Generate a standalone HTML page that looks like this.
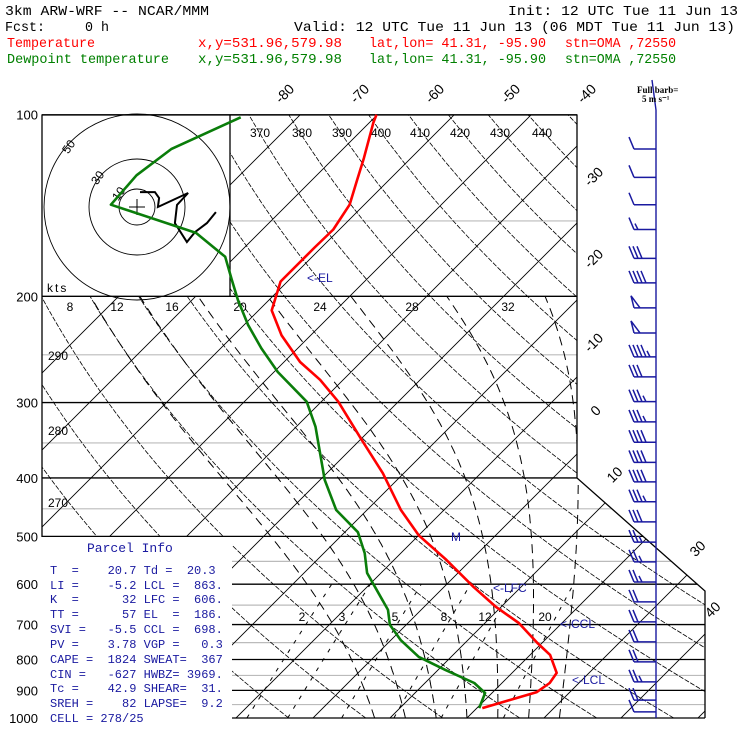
<!DOCTYPE html>
<html><head><meta charset="utf-8"><style>
html,body{margin:0;padding:0;background:#fff;}
svg{display:block;font-family:"Liberation Sans",sans-serif;}
.mono{font-family:"Liberation Mono",monospace;}
</style></head><body>
<svg id="chart" width="740" height="740" viewBox="0 0 740 740" xmlns="http://www.w3.org/2000/svg">
<defs>
<clipPath id="plotclip"><polygon points="230,115 577,115 577,478 705,591 705,718 232,718 232,537 42,537 42,296 230,296"/></clipPath>
</defs>
<rect width="740" height="740" fill="#fff"/>
<g class="mono" font-size="14">
<text x="5" y="15" textLength="204" lengthAdjust="spacingAndGlyphs">3km ARW-WRF -- NCAR/MMM</text>
<text x="508" y="15" textLength="230" lengthAdjust="spacingAndGlyphs">Init: 12 UTC Tue 11 Jun 13</text>
<text x="5" y="31" textLength="104" lengthAdjust="spacingAndGlyphs" xml:space="preserve">Fcst:     0 h</text>
<text x="294" y="31" textLength="441" lengthAdjust="spacingAndGlyphs">Valid: 12 UTC Tue 11 Jun 13 (06 MDT Tue 11 Jun 13)</text>
<g fill="#ff0000">
<text x="7" y="47" textLength="88" lengthAdjust="spacingAndGlyphs">Temperature</text>
<text x="198" y="47" textLength="144" lengthAdjust="spacingAndGlyphs">x,y=531.96,579.98</text>
<text x="369" y="47" textLength="177" lengthAdjust="spacingAndGlyphs">lat,lon= 41.31, -95.90</text>
<text x="565" y="47" textLength="111" lengthAdjust="spacingAndGlyphs">stn=OMA ,72550</text>
</g>
<g fill="#008000">
<text x="7" y="63" textLength="162" lengthAdjust="spacingAndGlyphs">Dewpoint temperature</text>
<text x="198" y="63" textLength="144" lengthAdjust="spacingAndGlyphs">x,y=531.96,579.98</text>
<text x="369" y="63" textLength="177" lengthAdjust="spacingAndGlyphs">lat,lon= 41.31, -95.90</text>
<text x="565" y="63" textLength="111" lengthAdjust="spacingAndGlyphs">stn=OMA ,72550</text>
</g>
</g>
<g id="grid" clip-path="url(#plotclip)"></g>
<g id="frame"></g>
<g id="labels"></g>
<g id="hodo"></g>
<g id="profiles"></g>
<g id="barbs"></g>
<g class="mono" font-size="12" fill="#1a1aa0">
<text x="87" y="552" font-size="13" xml:space="preserve">Parcel Info</text>
<text x="50" y="574" xml:space="preserve">T  =    20.7 Td =  20.3</text>
<text x="50" y="589" xml:space="preserve">LI =    -5.2 LCL =  863.</text>
<text x="50" y="603" xml:space="preserve">K  =      32 LFC =  606.</text>
<text x="50" y="618" xml:space="preserve">TT =      57 EL  =  186.</text>
<text x="50" y="633" xml:space="preserve">SVI =   -5.5 CCL =  698.</text>
<text x="50" y="648" xml:space="preserve">PV =    3.78 VGP =   0.3</text>
<text x="50" y="663" xml:space="preserve">CAPE =  1824 SWEAT=  367</text>
<text x="50" y="678" xml:space="preserve">CIN =   -627 HWBZ= 3969.</text>
<text x="50" y="692" xml:space="preserve">Tc =    42.9 SHEAR=  31.</text>
<text x="50" y="707" xml:space="preserve">SREH =    82 LAPSE=  9.2</text>
<text x="50" y="722" xml:space="preserve">CELL = 278/25</text>
</g>
<g font-size="12" fill="#1a1aa0">
<text x="307" y="282">&lt;-EL</text>
<text x="493" y="592">&lt;-LFC</text>
<text x="560" y="628">&lt;-CCL</text>
<text x="572" y="684">&lt;-LCL</text>
<text x="451" y="541">M</text>
</g>
<g font-family="Liberation Serif,serif" font-weight="bold" font-size="9">
<text x="637" y="93">Full barb=</text>
<text x="642" y="102">5 m s⁻¹</text>
</g>
</svg>
<script>
var isoT = [-150,-140,-130,-120,-110,-100,-90,-80,-70,-60,-50,-40,-30,-20,-10,0,10,20,30,40,50,60];
var thetas = [250,260,270,280,290,300,310,320,330,340,350,360,370,380,390,400,410,420,430,440,450,460,470];
var mixRatios = [2,3,5,8,12,20];
var moistThetaW = [8,12,16,20,24,28,32];
var pLevels = [100,200,300,400,500,600,700,800,900,1000];
var pMinor = [150,250,350,450,550,650,750,850,950];
var tempP = [100,103,118,128,141,155,166,189,211,232,257,275,299,344,393,452,498,547,607,655,696,751,786,842,875,906,934,963];
var tempT = [-70.1,-69.5,-66.1,-64.2,-61.9,-60.8,-60.9,-60.9,-58.3,-53.8,-47.9,-43,-37.8,-30.1,-22.7,-15.6,-10,-3.2,3.9,9.4,14.4,19.4,22.6,25.8,26.2,25.7,23.2,20.7];
var dewP = [101,114,126,141,157,172,188,203,223,244,267,299,329,403,452,492,533,575,662,701,743,792,833,875,909,963];
var dewT = [-87.4,-92.3,-93.4,-92.9,-78.2,-71.3,-67.4,-64,-59.5,-54.7,-49.5,-41.9,-37.5,-29.4,-24,-18.3,-14.7,-11.8,-4.3,-2.1,1.3,5.8,11,16.4,19.1,20.3];
var windP = [114,127,141,155,173,190,209,230,252,272,299,323,349,377,406,438,473,511,551,595,642,693,748,807,871,934,977];
var windSpd = [5,5,5,7.5,15,20,25,25,22.5,15,17.5,17.5,20,20,20,17.5,15,12.5,12.5,12.5,10,10,10,10,12.5,10,5];
var hodoU = [1.3,7.8,9.6,9.1,22.2,17.4,16.5,21.7,25.2,30.4,34.3];
var hodoV = [6.5,6.5,3.9,0,6.1,0.9,-7,-15.2,-10.9,-7,-2.2];

var NS='http://www.w3.org/2000/svg';
function yP(p){return 718-262*Math.log(1000/p);}
function xT(T,p){var y=yP(p);return 608+7.7*(T+40)-(y-115);}
function mk(tag,attrs,parent){var e=document.createElementNS(NS,tag);for(var k in attrs)e.setAttribute(k,attrs[k]);parent.appendChild(e);return e;}
function pts(arr){return arr.map(function(a){return a[0].toFixed(1)+','+a[1].toFixed(1);}).join(' ');}
var grid=document.getElementById('grid');
pMinor.forEach(function(p){var l=mk('line',{x1:42,x2:705,y1:yP(p),y2:yP(p),stroke:'#bbbbbb','stroke-width':1.2},grid);

});
isoT.forEach(function(T){var l=mk('line',{x1:xT(T,1000),y1:yP(1000),x2:xT(T,100),y2:yP(100),stroke:'#000','stroke-width':0.9},grid);

});
thetas.forEach(function(th){var a=[];for(var p=1000;p>=100;p-=10){var T=th*Math.pow(p/1000,0.2857)-273.15;a.push([xT(T,p),yP(p)]);}
var l=mk('polyline',{points:pts(a),fill:'none',stroke:'#000','stroke-width':0.8,'stroke-dasharray':'5,1.5'},grid);

});
function tdW(w,p){var e=w*p/(622+w);var L=Math.log(e/6.112);return 243.5*L/(17.67-L);}
mixRatios.forEach(function(w){var a=[];for(var p=1000;p>=600;p-=20)a.push([xT(tdW(w,p),p),yP(p)]);
var l=mk('polyline',{points:pts(a),fill:'none',stroke:'#000','stroke-width':1,'stroke-dasharray':'4,7'},grid);

});
moistThetaW.forEach(function(tw){var T=tw+273.15,a=[];for(var p=1000;p>=200;p-=5){a.push([xT(T-273.15,p),yP(p)]);
var es=6.112*Math.exp(17.67*(T-273.15)/(T-29.65));var rs=0.622*es/(p-es);
var d=(287*T+2.5e6*rs)/(p*(1004+2.5e6*2.5e6*rs*0.622/(287*T*T)));T-=d*5;}
var l=mk('polyline',{points:pts(a),fill:'none',stroke:'#000','stroke-width':1,'stroke-dasharray':'9,6'},grid);

});
var fr=document.getElementById('frame');
function leftX(p){return p>500?232:42;}
function rightX(p){var y=yP(p);if(y<=478)return 577;var x=577+(y-478)/0.88;return Math.min(705,x);}
pLevels.forEach(function(p){var l=mk('line',{x1:leftX(p),x2:rightX(p),y1:yP(p),y2:yP(p),stroke:'#000','stroke-width':1.3},fr);

});
var f=mk('polyline',{points:'42,537 42,115 577,115 577,478 705,591 705,718',fill:'none',stroke:'#000','stroke-width':1.3},fr);


var hb=mk('line',{x1:230,y1:115,x2:230,y2:296,stroke:'#000','stroke-width':1.3},fr);


var lab=document.getElementById('labels');
function txt(s,x,y,rot,size,name){var t=mk('text',{x:x,y:y,'font-size':size||12,'text-anchor':'middle'},lab);
if(rot)t.setAttribute('transform','rotate('+rot+' '+x+' '+y+')');t.textContent=s;

}
[[1000,'1000'],[900,'900'],[800,'800'],[700,'700'],[600,'600'],[500,'500'],[400,'400'],[300,'300'],[200,'200'],[100,'100']].forEach(function(a){
var t=mk('text',{x:38,y:yP(a[0])+5,'font-size':13,'text-anchor':'end'},lab);t.textContent=a[1];

});
[['-80',288,97],['-70',363,97],['-60',438,97],['-50',514,97],['-40',590,97],['-30',597,180],['-20',597,262],['-10',597,346],['0',599,414],['10',618,478],['30',701,552],['40',716,613]].forEach(function(a){txt(a[0],a[1],a[2],-45,14,'isotherm-label');});
[['370',260,137],['380',302,137],['390',342,137],['400',381,137],['410',420,137],['420',460,137],['430',500,137],['440',542,137],['290',58,360],['280',58,435],['270',58,507]].forEach(function(a){txt(a[0],a[1],a[2],0,12,'theta-label');});
[['8',70,311],['12',117,311],['16',172,311],['20',240,311],['24',320,311],['28',412,311],['32',508,311]].forEach(function(a){txt(a[0],a[1],a[2],0,12,'moist-adiabat-label');});
[['2',302,621],['3',342,621],['5',395,621],['8',444,621],['12',485,621],['20',545,621]].forEach(function(a){txt(a[0],a[1],a[2],0,12,'mixing-ratio-label');});
var hg=document.getElementById('hodo');var cx=137,cy=207;
[18,48,93].forEach(function(r){var c=mk('circle',{cx:cx,cy:cy,r:r,fill:'none',stroke:'#000','stroke-width':0.9},hg);

});
mk('path',{d:'M129,207H145M137,199V215',stroke:'#000','stroke-width':1},hg);
[['10',122,196],['30',101,180],['50',72,149]].forEach(function(a){var t=mk('text',{x:a[1],y:a[2],'font-size':12,'text-anchor':'middle',transform:'rotate(-55 '+a[1]+' '+a[2]+')'},hg);t.textContent=a[0];

});
var kt=mk('text',{x:47,y:292,'font-size':12,'letter-spacing':'2'},hg);kt.textContent='kts';


var hs=2.3;var ha=hodoU.map(function(u,i){return [cx+u*hs,cy-hodoV[i]*hs];});
var hl=mk('polyline',{points:pts(ha),fill:'none',stroke:'#000','stroke-width':2},hg);


var pr=document.getElementById('profiles');
var dl=mk('polyline',{points:pts(dewP.map(function(p,i){return [xT(dewT[i],p),yP(p)];})),fill:'none',stroke:'#0a7d0a','stroke-width':2.6,'stroke-linejoin':'round'},pr);


var tl=mk('polyline',{points:pts(tempP.map(function(p,i){return [xT(tempT[i],p),yP(p)];})),fill:'none',stroke:'#ff0000','stroke-width':2.6,'stroke-linejoin':'round'},pr);


var bg=document.getElementById('barbs');var col='#1a1aa0';var sx=656;
var st=mk('path',{d:'M652,80L656,110V718',stroke:col,'stroke-width':1.4,fill:'none'},bg);


windP.forEach(function(p,i){var y=yP(p);var s=windSpd[i];var d='M'+sx+','+y+'H634';var x=634;
var pen=Math.floor(s/25);s-=pen*25;var full=Math.floor(s/5);s-=full*5;var half=s>=2.5?1:0;
for(var k=0;k<pen;k++){d+='M'+x+','+y+'L'+(x-3)+','+(y-12)+'L'+(x+6)+','+y;x+=7;}
for(var k=0;k<full;k++){d+='M'+x+','+y+'L'+(x-5)+','+(y-12);x+=4;}
if(half){d+='M'+x+','+y+'L'+(x-3)+','+(y-6);}
var b=mk('path',{d:d,stroke:col,'stroke-width':1.5,fill:'none'},bg);

});
</script>
</body></html>
